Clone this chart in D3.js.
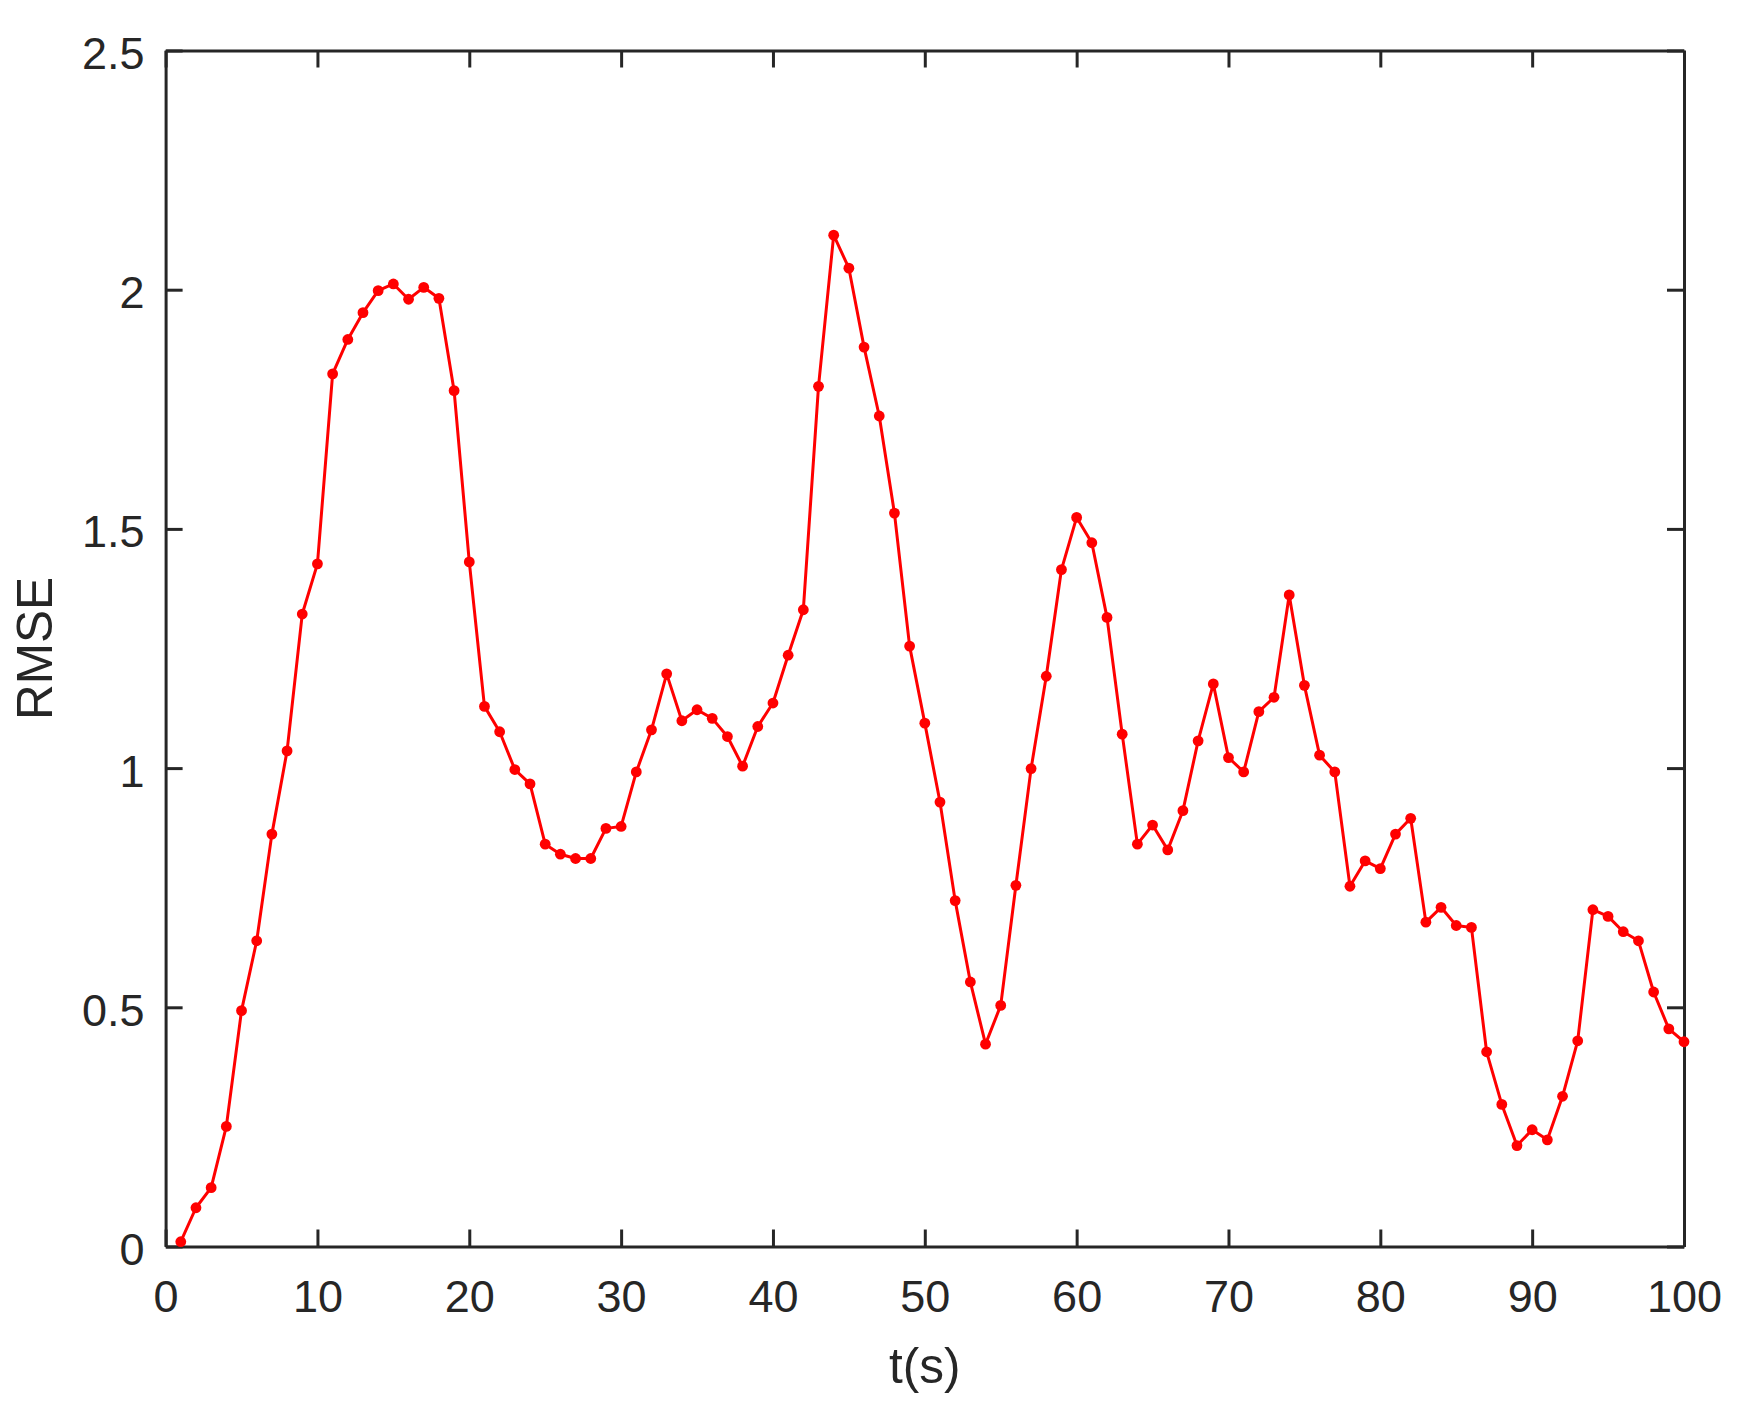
<!DOCTYPE html>
<html>
<head>
<meta charset="utf-8">
<script src="https://cdn.jsdelivr.net/npm/d3@7"></script>
<style>
  html, body { margin: 0; padding: 0; background: #fff; }
  svg { display: block; }
</style>
</head>
<body>
<script>
// RMSE per second, t = 1..100
const tValues = d3.range(1, 101);
const rmse = [
  0.01, 0.081, 0.123, 0.251, 0.493, 0.639, 0.862, 1.036, 1.322, 1.427,
  1.824, 1.896, 1.952, 1.998, 2.012, 1.980, 2.005, 1.982, 1.789, 1.431,
  1.129, 1.076, 0.997, 0.967, 0.841, 0.820, 0.811, 0.811, 0.874, 0.878,
  0.992, 1.080, 1.197, 1.099, 1.122, 1.104, 1.066, 1.004, 1.087, 1.136,
  1.236, 1.331, 1.798, 2.114, 2.045, 1.880, 1.736, 1.533, 1.255, 1.094,
  0.929, 0.723, 0.553, 0.423, 0.504, 0.755, 0.999, 1.192, 1.415, 1.524,
  1.471, 1.315, 1.071, 0.841, 0.881, 0.829, 0.911, 1.057, 1.176, 1.022,
  0.992, 1.118, 1.148, 1.362, 1.173, 1.027, 0.992, 0.753, 0.806, 0.790,
  0.862, 0.895, 0.678, 0.709, 0.671, 0.667, 0.407, 0.297, 0.211, 0.244,
  0.223, 0.314, 0.430, 0.704, 0.690, 0.658, 0.639, 0.532, 0.455, 0.428
];
const xTicks = [0, 10, 20, 30, 40, 50, 60, 70, 80, 90, 100];
const yTicks = [0, 0.5, 1, 1.5, 2, 2.5];

const data = tValues.map((t, i) => ({ t: t, v: rmse[i] }));

const width = 1743;
const height = 1410;
const marginTop = 50.5;
const marginRight = 59;
const marginBottom = 163.5;
const marginLeft = 165.6;
const axisColor = "#262626";
const font = "'Liberation Sans', Arial, Helvetica, sans-serif";

const svg = d3.select("body").append("svg")
    .attr("width", width)
    .attr("height", height)
    .attr("viewBox", [0, 0, width, height]);

const x = d3.scaleLinear()
    .domain([0, 100])
    .range([marginLeft, width - marginRight]);

const y = d3.scaleLinear()
    .domain([0, 2.5])
    .range([height - marginBottom, marginTop]);

// style an axis group like matlab
function styleAxis(g) {
  g.select(".domain").attr("stroke", axisColor).attr("stroke-width", 3);
  g.selectAll(".tick line").attr("stroke", axisColor).attr("stroke-width", 3);
  g.selectAll(".tick text")
      .attr("fill", axisColor)
      .style("font-family", font)
      .style("font-size", "45px");
}

// bottom
svg.append("g")
    .attr("transform", `translate(0,${height - marginBottom})`)
    .call(d3.axisBottom(x).tickValues(xTicks).tickSizeInner(-17).tickSizeOuter(0).tickPadding(34))
    .call(styleAxis);

// top
svg.append("g")
    .attr("transform", `translate(0,${marginTop})`)
    .call(d3.axisTop(x).tickValues(xTicks).tickFormat("").tickSizeInner(-17).tickSizeOuter(0))
    .call(styleAxis);

// left
svg.append("g")
    .attr("transform", `translate(${marginLeft},0)`)
    .call(d3.axisLeft(y).tickValues(yTicks).tickFormat(d3.format("")).tickSizeInner(-17).tickSizeOuter(0).tickPadding(21))
    .call(styleAxis)
    .call(g => g.selectAll(".tick text").attr("dy", "0.4em"));

// right
svg.append("g")
    .attr("transform", `translate(${width - marginRight},0)`)
    .call(d3.axisRight(y).tickValues(yTicks).tickFormat("").tickSizeInner(-17).tickSizeOuter(0))
    .call(styleAxis);

// axis labels
svg.append("text")
    .attr("x", (marginLeft + width - marginRight) / 2)
    .attr("y", 1383)
    .attr("text-anchor", "middle")
    .attr("fill", axisColor)
    .style("font-family", font)
    .style("font-size", "49.5px")
    .text("t(s)");

svg.append("text")
    .attr("transform", `translate(52,${(marginTop + height - marginBottom) / 2}) rotate(-90)`)
    .attr("text-anchor", "middle")
    .attr("fill", axisColor)
    .style("font-family", font)
    .style("font-size", "49.5px")
    .text("RMSE");

// line
const line = d3.line()
    .x(d => x(d.t))
    .y(d => y(d.v));

svg.append("path")
    .datum(data)
    .attr("fill", "none")
    .attr("stroke", "#ff0000")
    .attr("stroke-width", 3)
    .attr("stroke-linejoin", "round")
    .attr("d", line);

svg.selectAll(".dot")
    .data(data)
    .enter()
    .append("circle")
    .attr("class", "dot")
    .attr("cx", d => x(d.t))
    .attr("cy", d => y(d.v))
    .attr("r", 5.4)
    .attr("fill", "#ff0000");
</script>
</body>
</html>
